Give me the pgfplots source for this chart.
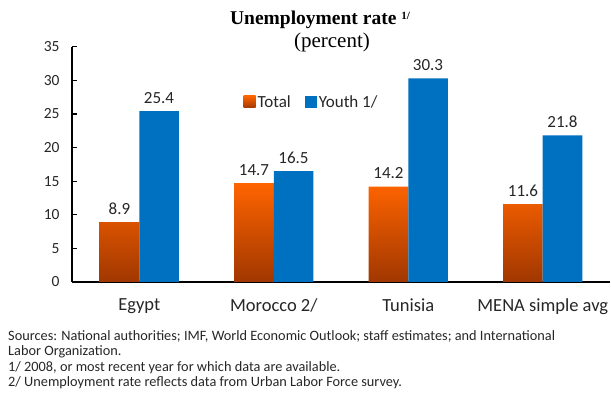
\documentclass[border=0pt]{standalone}
\usepackage{pgfplots}
\pgfplotsset{compat=1.18}
\usepackage{fontspec}
\setmainfont{Carlito}
\newfontfamily\titlefont{Liberation Serif}
\definecolor{orT}{RGB}{255,100,0}
\definecolor{orB}{RGB}{160,55,0}
\definecolor{bl}{RGB}{0,112,192}
\definecolor{txt}{RGB}{38,38,38}
\begin{document}
\begin{tikzpicture}
\path[use as bounding box] (0,0) rectangle (611pt,394pt);
\begin{axis}[
  at={(72pt,112pt)}, anchor=south west,
  scale only axis, width=538pt, height=235.3pt,
  xmin=-0.5, xmax=3.5, ymin=0, ymax=35,
  axis lines*=left,
  axis line style={line width=1.6pt, black},
  ytick={0,5,...,35},
  xtick={0,1,2,3},
  xticklabels={Egypt,Morocco 2/,Tunisia,MENA simple avg},
  major x tick style={draw=none},
  extra x ticks={0.5,1.5,2.5,3.5},
  extra x tick labels={},
  extra x tick style={tick style={line width=1.2pt, black}},
  tick align=inside,
  major tick length=5pt,
  y tick style={line width=1.2pt, black},
  /pgf/number format/assume math mode=true,
  yticklabel style={font=\fontsize{15.5}{17}\selectfont, text=txt, xshift=-9pt},
  xticklabel style={font=\fontsize{18.5}{20}\selectfont, text=txt, yshift=-8pt},
  ybar,
  nodes near coords,
  every node near coord/.append style={font=\fontsize{17}{19}\selectfont, text=txt, anchor=base, yshift=8pt},
  legend columns=2,
  legend style={at={(0.313,0.765)}, anchor=west, draw=none, fill=none,
     font=\fontsize{17}{19}\selectfont, text=txt,
     /tikz/every even column/.append style={column sep=12pt},
     /tikz/every odd column/.append style={inner xsep=1pt}},
  legend image code/.code={\path[#1] (0pt,-6pt) rectangle (12pt,6pt);},
  clip=false,
]
\addplot[draw=none, top color=orT, bottom color=orB, bar width=0.294, bar shift=-0.147]
  coordinates {(0,8.9) (1,14.7) (2,14.2) (3,11.6)};
\addplot[draw=none, fill=bl, bar width=0.294, bar shift=0.147]
  coordinates {(0,25.4) (1,16.5) (2,30.3) (3,21.8)};
\legend{Total,Youth 1/}
\end{axis}
\node[anchor=base, font=\titlefont\bfseries\fontsize{19.5}{22}\selectfont] at (320pt,369pt) {Unemployment rate \raisebox{5pt}{\fontsize{11}{12}\selectfont 1/}};
\node[anchor=base, font=\titlefont\fontsize{21}{24}\selectfont] at (332pt,346pt) {(percent)};
\begin{scope}[every node/.style={anchor=base west, inner sep=0pt, font=\fontsize{14.3}{16}\selectfont, text=txt}]
\node at (8pt,53pt) {Sources: National authorities; IMF, World Economic Outlook; staff estimates; and International};
\node at (8pt,38pt) {Labor Organization.};
\node at (8pt,23pt) {1/ 2008, or most recent year for which data are available.};
\node at (8pt,8pt) {2/ Unemployment rate reflects data from Urban Labor Force survey.};
\end{scope}
\end{tikzpicture}
\end{document}
